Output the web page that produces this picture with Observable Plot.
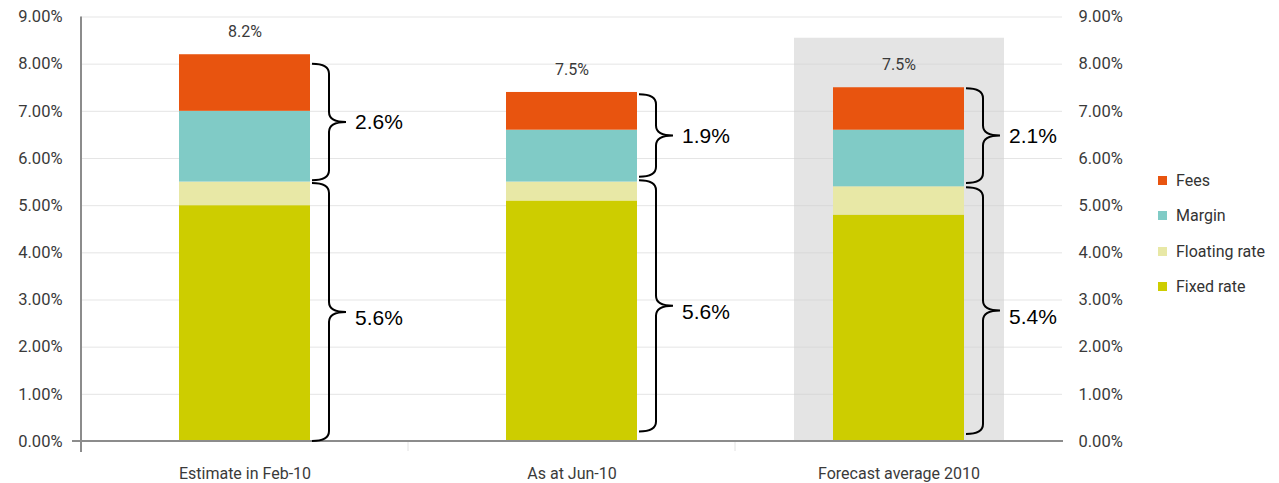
<!DOCTYPE html>
<html><head><meta charset="utf-8">
<script src="https://cdn.jsdelivr.net/npm/d3@7"></script>
<script src="https://cdn.jsdelivr.net/npm/@observablehq/plot@0.6"></script>
<style>
html,body{margin:0;padding:0;background:#fff;}
#wrap{position:relative;width:1279px;height:483px;overflow:hidden;font-family:Roboto,"DejaVu Sans",sans-serif;}
#legend{position:absolute;left:1158px;top:0;}
.item{position:absolute;left:0;white-space:nowrap;font-size:16px;color:#333;display:flex;align-items:center;height:20px;}
.sw{width:9px;height:9px;margin-right:9px;}
</style></head><body><div id="wrap"><div id="legend"></div></div>
<script>
// ---- data ----
const categories = ["Estimate in Feb-10", "As at Jun-10", "Forecast average 2010"];
const series = ["Fixed rate", "Floating rate", "Margin", "Fees"];
const fixedRate = [5.0, 5.1, 4.8];
const floatingRate = [0.5, 0.4, 0.6];
const margin = [1.5, 1.1, 1.2];
const fees = [1.2, 0.8, 0.9];
const totalLabels = ["8.2%", "7.5%", "7.5%"];
const upperBraceFrom = [5.53, 5.6, 5.47];
const upperBraceTo = [8.0, 7.35, 7.48];
const upperBraceLabels = ["2.6%", "1.9%", "2.1%"];
const lowerBraceFrom = [0, 0.2, 0.15];
const lowerBraceTo = [5.47, 5.53, 5.38];
const lowerBraceLabels = ["5.6%", "5.6%", "5.4%"];
const yTicks = [0, 1, 2, 3, 4, 5, 6, 7, 8, 9];
const highlightCategory = "Forecast average 2010";
const highlightTop = 8.55;

const seriesColors = ["#cdcd00", "#e8e8a6", "#80cbc6", "#e8540f"];

// ---- tables ----
const valuesBySeries = [fixedRate, floatingRate, margin, fees];
const rows = categories.flatMap((c, i) => series.map((s, j) => ({category: c, series: s, value: valuesBySeries[j][i]})));
const totals = categories.map((c, i) => ({category: c, total: fixedRate[i] + floatingRate[i] + margin[i] + fees[i], label: totalLabels[i]}));
const upperBraces = categories.map((c, i) => ({category: c, from: upperBraceFrom[i], to: upperBraceTo[i], label: upperBraceLabels[i]}));
const lowerBraces = categories.map((c, i) => ({category: c, from: lowerBraceFrom[i], to: lowerBraceTo[i], label: lowerBraceLabels[i]}));
const allBraces = upperBraces.concat(lowerBraces);

const PAD = 0.6;
const fmt = d => d.toFixed(2) + "%";

const decorations = (index, scales, values, dimensions) => {
  const {width, marginLeft, marginRight, marginTop} = dimensions;
  const g = d3.create("svg:g");
  const y0 = scales.y(0);
  const step = (width - marginLeft - marginRight) / categories.length;
  // band ticks below axis
  for (let i = 1; i < categories.length; i++) {
    g.append("line").attr("x1", marginLeft + i * step).attr("x2", marginLeft + i * step)
      .attr("y1", y0).attr("y2", y0 + 10).attr("stroke", "#e2e2e2").attr("stroke-width", 1);
  }
  // axis lines
  g.append("line").attr("x1", marginLeft).attr("x2", marginLeft).attr("y1", marginTop).attr("y2", y0 + 11)
    .attr("stroke", "#8c8c8c").attr("stroke-width", 2);
  g.append("line").attr("x1", marginLeft - 9).attr("x2", width - marginRight + 1).attr("y1", y0).attr("y2", y0)
    .attr("stroke", "#8c8c8c").attr("stroke-width", 2);
  // braces
  const bw = typeof scales.x.bandwidth === "function" ? scales.x.bandwidth() : step * (1 - PAD);
  const w = 34, r = 10;
  for (const b of allBraces) {
    const x0 = scales.x(b.category) + bw + 2;
    const yT = scales.y(b.to), yB = scales.y(b.from), ym = (yT + yB) / 2;
    const xm = x0 + w / 2, tip = x0 + w;
    const p = `M${x0},${yT} Q${xm},${yT} ${xm},${yT + r} L${xm},${ym - r} Q${xm},${ym} ${tip},${ym} Q${xm},${ym} ${xm},${ym + r} L${xm},${yB - r} Q${xm},${yB} ${x0},${yB}`;
    g.append("path").attr("d", p).attr("fill", "none").attr("stroke", "#000").attr("stroke-width", 2);
  }
  return g.node();
};

const chart = Plot.plot({
  width: 1279,
  height: 483,
  marginLeft: 81,
  marginRight: 217,
  marginTop: 16.5,
  marginBottom: 42,
  x: {domain: categories, paddingInner: PAD, paddingOuter: PAD / 2, label: null},
  y: {domain: [0, 9], label: null},
  color: {domain: series, range: seriesColors},
  style: {fontFamily: "Roboto, 'DejaVu Sans', sans-serif", fontSize: "16px", color: "#3a3a3a", background: "white"},
  marks: [
    Plot.barY([{category: highlightCategory, top: highlightTop}], {x: "category", y: "top", fill: "#e4e4e4", insetLeft: -39, insetRight: -40}),
    Plot.gridY({ticks: yTicks, stroke: "#cfcfcf", strokeOpacity: 0.55}),
    Plot.barY(rows, {x: "category", y: "value", fill: "series"}),
    Plot.axisY({anchor: "left", ticks: yTicks, tickFormat: fmt, tickSize: 0, tickPadding: 19, fontSize: 16.5, label: null}),
    Plot.axisY({anchor: "right", ticks: yTicks, tickFormat: fmt, tickSize: 0, tickPadding: 16, fontSize: 16.5, label: null}),
    Plot.axisX({tickSize: 0, tickPadding: 26, fontSize: 16, label: null}),
    Plot.text(totals, {x: "category", y: "total", text: "label", dy: -23, fontSize: 16, fill: "#3a3a3a"}),
    decorations,
    Plot.text(upperBraces, {x: "category", y: d => (d.from + d.to) / 2, text: "label", textAnchor: "start", dx: 110, fontSize: 21, fill: "#000", fontFamily: "'Liberation Sans', Arial, sans-serif"}),
    Plot.text(lowerBraces, {x: "category", y: d => (d.from + d.to) / 2, text: "label", textAnchor: "start", dx: 110, dy: 6, fontSize: 21, fill: "#000", fontFamily: "'Liberation Sans', Arial, sans-serif"})
  ]
});
document.getElementById("wrap").prepend(chart);

// legend
const legend = document.getElementById("legend");
series.slice().reverse().forEach((s, k) => {
  const idx = series.indexOf(s);
  const item = document.createElement("div");
  item.className = "item";
  item.style.top = (170 + k * 35.5) + "px";
  item.innerHTML = `<span class="sw" style="background:${seriesColors[idx]}"></span><span>${s}</span>`;
  legend.appendChild(item);
});
</script></body></html>
